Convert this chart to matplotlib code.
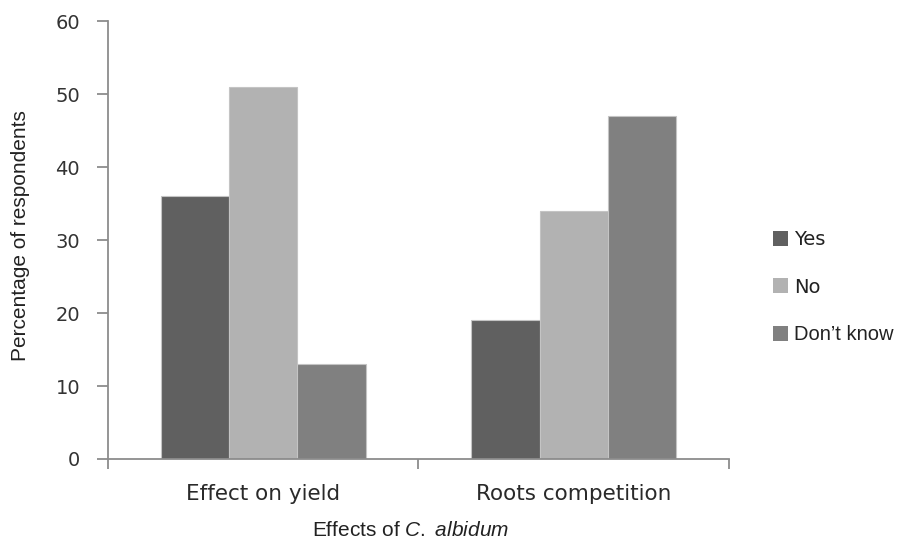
import matplotlib
matplotlib.use("Agg")
import matplotlib.pyplot as plt
import numpy as np
from matplotlib.patches import Patch
from matplotlib.font_manager import FontProperties

plt.rcParams["mathtext.fontset"] = "custom"
plt.rcParams["mathtext.it"] = "Liberation Sans:italic"
plt.rcParams["mathtext.rm"] = "Liberation Sans"

categories = ["Effect on yield", "Roots competition"]
series_names = ["Yes", "No", "Don\u2019t know"]
yes_vals = [36, 19]
no_vals = [51, 34]
dont_know_vals = [13, 47]
y_ticks = [0, 10, 20, 30, 40, 50, 60]

colors = ["#606060", "#b2b2b2", "#808080"]
axis_gray = "#8c8c8c"

fig = plt.figure(figsize=(8.99, 5.40), dpi=100)
ax = fig.add_axes([0.120, 0.150, 0.691, 0.811])

x = np.arange(len(categories))
width = 0.22
offsets = [-width, 0, width]
for vals, off, col in zip([yes_vals, no_vals, dont_know_vals], offsets, colors):
    ax.bar(x + off, vals, width=width, color=col, edgecolor="#c4c4c4",
           linewidth=0.8, zorder=2)

ax.set_xlim(-0.5, 1.5)
ax.set_ylim(0, 60)
ax.set_yticks(y_ticks)
ax.set_yticklabels([str(t) for t in y_ticks], fontsize=14, color="#333333",
                   family="DejaVu Sans")

# category boundaries carry the tick marks; labels sit under the centers
ax.set_xticks([-0.5, 0.5, 1.5])
ax.set_xticklabels([])
ax.set_xticks(x, minor=True)
ax.set_xticklabels(categories, minor=True, fontsize=15.5, color="#2a2a2a",
                   family="DejaVu Sans")
ax.tick_params(axis="x", which="minor", length=0, pad=18)
ax.tick_params(axis="x", which="major", length=7, width=1.3, color=axis_gray,
               direction="out")
ax.tick_params(axis="y", length=8, width=1.3, color=axis_gray, direction="out",
               pad=12)

for side in ["top", "right"]:
    ax.spines[side].set_visible(False)
for side in ["left", "bottom"]:
    ax.spines[side].set_color(axis_gray)
    ax.spines[side].set_linewidth(1.3)

ax.set_ylabel("Percentage of respondents", fontsize=15, family="Liberation Sans",
              color="#222222")
ax.yaxis.set_label_coords(-0.125, 0.51)
ax.set_xlabel("Effects of $\\mathit{C.}$ $\\mathit{albidum}$", fontsize=15,
              family="Liberation Sans", color="#222222")
ax.xaxis.set_label_coords(0.487, -0.142)

handles = [Patch(facecolor=c, edgecolor="none") for c in colors]
leg = fig.legend(handles, series_names, loc="center left",
                 bbox_to_anchor=(0.860, 0.468), frameon=False,
                 prop={"family": "Liberation Sans", "size": 14.5},
                 handlelength=0.75, handleheight=0.75, handletextpad=0.3,
                 labelspacing=1.42, borderpad=0, borderaxespad=0)
for txt in leg.get_texts()[:2]:
    txt.set_fontproperties(FontProperties(family="DejaVu Sans", size=14))
for txt in leg.get_texts():
    txt.set_color("#222222")

fig.savefig("out.png", dpi=100)
